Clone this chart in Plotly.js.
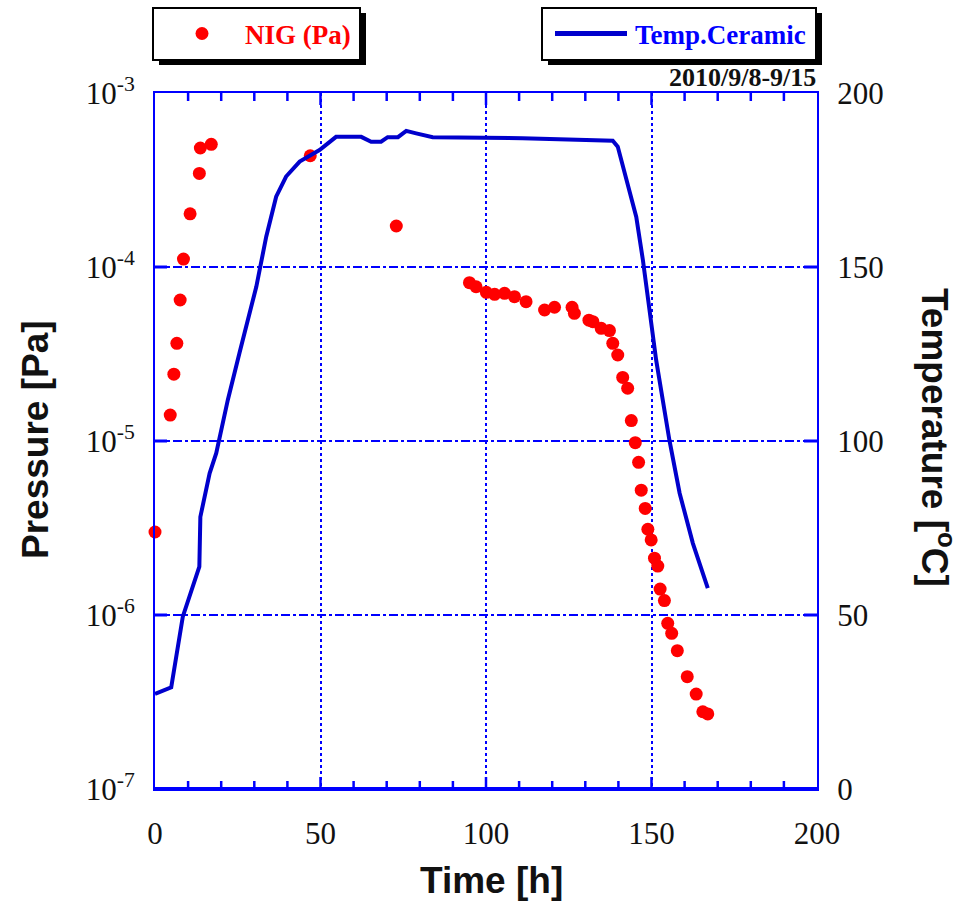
<!DOCTYPE html>
<html>
<head>
<meta charset="utf-8">
<script src="https://cdn.plot.ly/plotly-3.0.1.min.js"></script>
<style>html,body{margin:0;padding:0;background:#fff;}#chart{width:965px;height:904px;}</style>
</head>
<body>
<div id="chart"></div>
<script>
// ---- data ----
const nigTime = [0, 4.6, 5.7, 6.6, 7.6, 8.6, 10.6, 13.4, 13.7, 17.0, 46.9, 72.9,
  95.0, 97.0, 100.1, 102.6, 105.6, 108.6, 112.1, 117.7, 120.7, 126.0, 126.7, 131.1,
  132.3, 134.8, 137.3, 138.3, 139.8, 141.3, 142.8, 143.9, 145.1, 146.1, 146.9, 148.1,
  148.9, 149.9, 150.9, 151.9, 152.6, 153.9, 154.9, 156.1, 157.8, 160.8, 163.5, 165.5, 167.0];
const nigPressure = [3.0e-6, 1.41e-5, 2.42e-5, 3.64e-5, 6.46e-5, 1.11e-4, 2.02e-4, 3.45e-4, 4.83e-4, 5.07e-4, 4.36e-4, 1.72e-4,
  8.13e-5, 7.70e-5, 7.15e-5, 6.97e-5, 7.06e-5, 6.75e-5, 6.32e-5, 5.66e-5, 5.87e-5, 5.87e-5, 5.42e-5, 4.95e-5,
  4.85e-5, 4.44e-5, 4.31e-5, 3.64e-5, 3.12e-5, 2.32e-5, 2.01e-5, 1.31e-5, 9.78e-6, 7.54e-6, 5.22e-6, 4.10e-6,
  3.11e-6, 2.70e-6, 2.12e-6, 1.91e-6, 1.41e-6, 1.21e-6, 8.96e-7, 7.85e-7, 6.24e-7, 4.42e-7, 3.51e-7, 2.78e-7, 2.70e-7];
const tempTime = [0, 4.9, 8.4, 13.4, 13.7, 16.5, 18.5, 20.5, 22.0, 25.5, 30.6, 33.6, 36.6, 39.6, 43.7, 49.7,
  54.7, 62.3, 65.3, 68.3, 70.3, 73.4, 75.9, 78.9, 83.9, 111.0, 138.3, 139.8, 142.3, 145.4, 147.4,
  149.4, 151.4, 155.4, 158.5, 162.5, 167.0];
const tempCeramic = [27.3, 29.2, 49.5, 63.9, 78.2, 90.7, 96.5, 106.0, 111.8, 125.2, 144.3, 158.7, 170.2, 176.0, 180.3, 183.6,
  187.4, 187.4, 186.0, 186.0, 187.3, 187.3, 189.1, 188.4, 187.3, 187.0, 186.3, 184.6, 176.0, 164.4, 152.0,
  137.6, 123.3, 100.3, 85.0, 70.6, 57.7];
const xRange = [0, 200];
const xMajorStep = 50;
const xMinorStep = 10;
const pLogRange = [-7, -3];
const pTicks = [1e-7, 1e-6, 1e-5, 1e-4, 1e-3];
const pTickText = ['10<sup>-7</sup>', '10<sup>-6</sup>', '10<sup>-5</sup>', '10<sup>-4</sup>', '10<sup>-3</sup>'];
const tRange = [0, 200];
const tStep = 50;
const seriesNames = ['NIG (Pa)', 'Temp.Ceramic'];
const dateLabel = '2010/9/8-9/15';

// ---- layout helpers (pixel -> paper) ----
const M = {l: 155, r: 148, t: 93, b: 115};
const W = 965, H = 904;
const PW = W - M.l - M.r, PH = H - M.t - M.b;
const px = x => (x - M.l) / PW;
const py = y => (H - M.b - y) / PH;
// axis value -> paper fraction (same linear/log scales as the axes)
const xFrac = t => (t - xRange[0]) / (xRange[1] - xRange[0]);
const pFrac = p => (Math.log10(p) - pLogRange[0]) / (pLogRange[1] - pLogRange[0]);
const tFrac = v => (v - tRange[0]) / (tRange[1] - tRange[0]);

const BLUE = '#0000ff';
const LINEBLUE = '#0000cc';
const CLEAR = 'rgba(0,0,0,0)';
const tickFont = {family: 'Liberation Serif, Times New Roman, serif', size: 31, color: '#111'};
const titleFont = {family: 'Liberation Sans, Arial, sans-serif', size: 37, color: '#111', weight: 'bold'};

const traces = [
  {x: nigTime, y: nigPressure, type: 'scatter', mode: 'markers', name: seriesNames[0],
   marker: {color: '#ff0000', size: 13}, xaxis: 'x', yaxis: 'y', cliponaxis: false, showlegend: false},
  {x: tempTime, y: tempCeramic, type: 'scatter', mode: 'lines', name: seriesNames[1],
   line: {color: LINEBLUE, width: 4}, xaxis: 'x2', yaxis: 'y2', showlegend: false}
];

function box(x0, y0, x1, y1) {
  return [
    {type: 'rect', xref: 'paper', yref: 'paper', x0: px(x0 + 6), x1: px(x1 + 6), y0: py(y1 + 5), y1: py(y0 + 5),
     fillcolor: '#000', line: {width: 0}},
    {type: 'rect', xref: 'paper', yref: 'paper', x0: px(x0), x1: px(x1), y0: py(y1), y1: py(y0),
     fillcolor: '#fff', line: {color: '#000', width: 2}}
  ];
}

// inside tick marks, positioned through the axis scales
const tickShapes = [];
for (let t = xRange[0] + xMinorStep; t < xRange[1]; t += xMinorStep) {
  const len = (t % xMajorStep === 0 ? 12 : 8) / PH;
  const xf = xFrac(t);
  tickShapes.push({type: 'line', xref: 'paper', yref: 'paper', x0: xf, x1: xf, y0: 0, y1: len,
                   line: {color: BLUE, width: 2.5}});
  tickShapes.push({type: 'line', xref: 'paper', yref: 'paper', x0: xf, x1: xf, y0: 1, y1: 1 - len,
                   line: {color: BLUE, width: 2.5}});
}
for (let v = tRange[0] + tStep; v < tRange[1]; v += tStep) {
  const yf = tFrac(v);
  tickShapes.push({type: 'line', xref: 'paper', yref: 'paper', x0: 1, x1: 1 - 13 / PW, y0: yf, y1: yf,
                   line: {color: BLUE, width: 3}});
}
pTicks.slice(1, -1).forEach(p => {
  const yf = pFrac(p);
  tickShapes.push({type: 'line', xref: 'paper', yref: 'paper', x0: 0, x1: 12 / PW, y0: yf, y1: yf,
                   line: {color: BLUE, width: 3}});
});

const shapes = [].concat(
  box(153, 8, 360, 60),
  box(542, 8, 816, 60),
  tickShapes,
  [
    {type: 'circle', xref: 'paper', yref: 'paper', x0: px(195.5), x1: px(208.5), y0: py(40), y1: py(27),
     fillcolor: '#ff0000', line: {width: 0}},
    {type: 'line', xref: 'paper', yref: 'paper', x0: px(555), x1: px(627), y0: py(33.5), y1: py(33.5),
     line: {color: LINEBLUE, width: 5}},
    {type: 'line', xref: 'paper', yref: 'paper', x0: 0, x1: 1, y0: 0, y1: 0,
     line: {color: BLUE, width: 4}}
  ]
);

const annotations = [
  {xref: 'paper', yref: 'paper', x: px(243), y: py(35), xanchor: 'left', yanchor: 'middle', showarrow: false,
   text: seriesNames[0], font: {family: 'Liberation Serif, Times New Roman, serif', size: 27, color: '#ff0000', weight: 'bold'}},
  {xref: 'paper', yref: 'paper', x: px(633), y: py(35), xanchor: 'left', yanchor: 'middle', showarrow: false,
   text: seriesNames[1], font: {family: 'Liberation Serif, Times New Roman, serif', size: 27, color: '#0000ff', weight: 'bold'}},
  {xref: 'paper', yref: 'paper', x: px(818), y: py(77), xanchor: 'right', yanchor: 'middle', showarrow: false,
   text: dateLabel, font: {family: 'Liberation Serif, Times New Roman, serif', size: 26, color: '#111', weight: 'bold'}},
  {xref: 'paper', yref: 'paper', x: px(491.5), y: py(880), xanchor: 'center', yanchor: 'middle', showarrow: false,
   text: 'Time [h]', font: titleFont},
  {xref: 'paper', yref: 'paper', x: px(35), y: py(440), xanchor: 'center', yanchor: 'middle', showarrow: false,
   text: 'Pressure [Pa]', textangle: -90, font: titleFont},
  {xref: 'paper', yref: 'paper', x: px(937), y: py(437), xanchor: 'center', yanchor: 'middle', showarrow: false,
   text: 'Temperature [<sup>o</sup>C]', textangle: 90, font: titleFont}
];

const layout = {
  width: W, height: H,
  margin: M,
  paper_bgcolor: '#fff', plot_bgcolor: '#fff',
  showlegend: false,
  xaxis: {
    range: xRange, dtick: xMajorStep, tick0: 0,
    ticks: '', showline: true, linecolor: BLUE, linewidth: 2, mirror: true,
    showgrid: true, gridcolor: BLUE, gridwidth: 2, griddash: 'dot',
    zeroline: false, showticklabels: false
  },
  xaxis2: {
    overlaying: 'x', anchor: 'y2', side: 'bottom', range: xRange, dtick: xMajorStep, tick0: 0,
    ticks: 'outside', ticklen: 17, tickcolor: CLEAR,
    showline: false, showgrid: false, zeroline: false, tickfont: tickFont
  },
  yaxis: {
    type: 'log', range: pLogRange, tickmode: 'array', tickvals: pTicks, ticktext: pTickText,
    ticks: 'outside', ticklen: 12, tickcolor: CLEAR,
    showline: true, linecolor: BLUE, linewidth: 2,
    showgrid: true, gridcolor: BLUE, gridwidth: 2, griddash: 'dashdot',
    zeroline: false, tickfont: tickFont
  },
  yaxis2: {
    overlaying: 'y', anchor: 'x2', side: 'right', range: tRange, dtick: tStep, tick0: 0,
    ticks: 'outside', ticklen: 12, tickcolor: CLEAR,
    showline: true, linecolor: BLUE, linewidth: 2,
    showgrid: false, zeroline: false, tickfont: tickFont
  },
  shapes: shapes,
  annotations: annotations
};

Plotly.newPlot('chart', traces, layout, {displayModeBar: false, staticPlot: true});
</script>
</body>
</html>
